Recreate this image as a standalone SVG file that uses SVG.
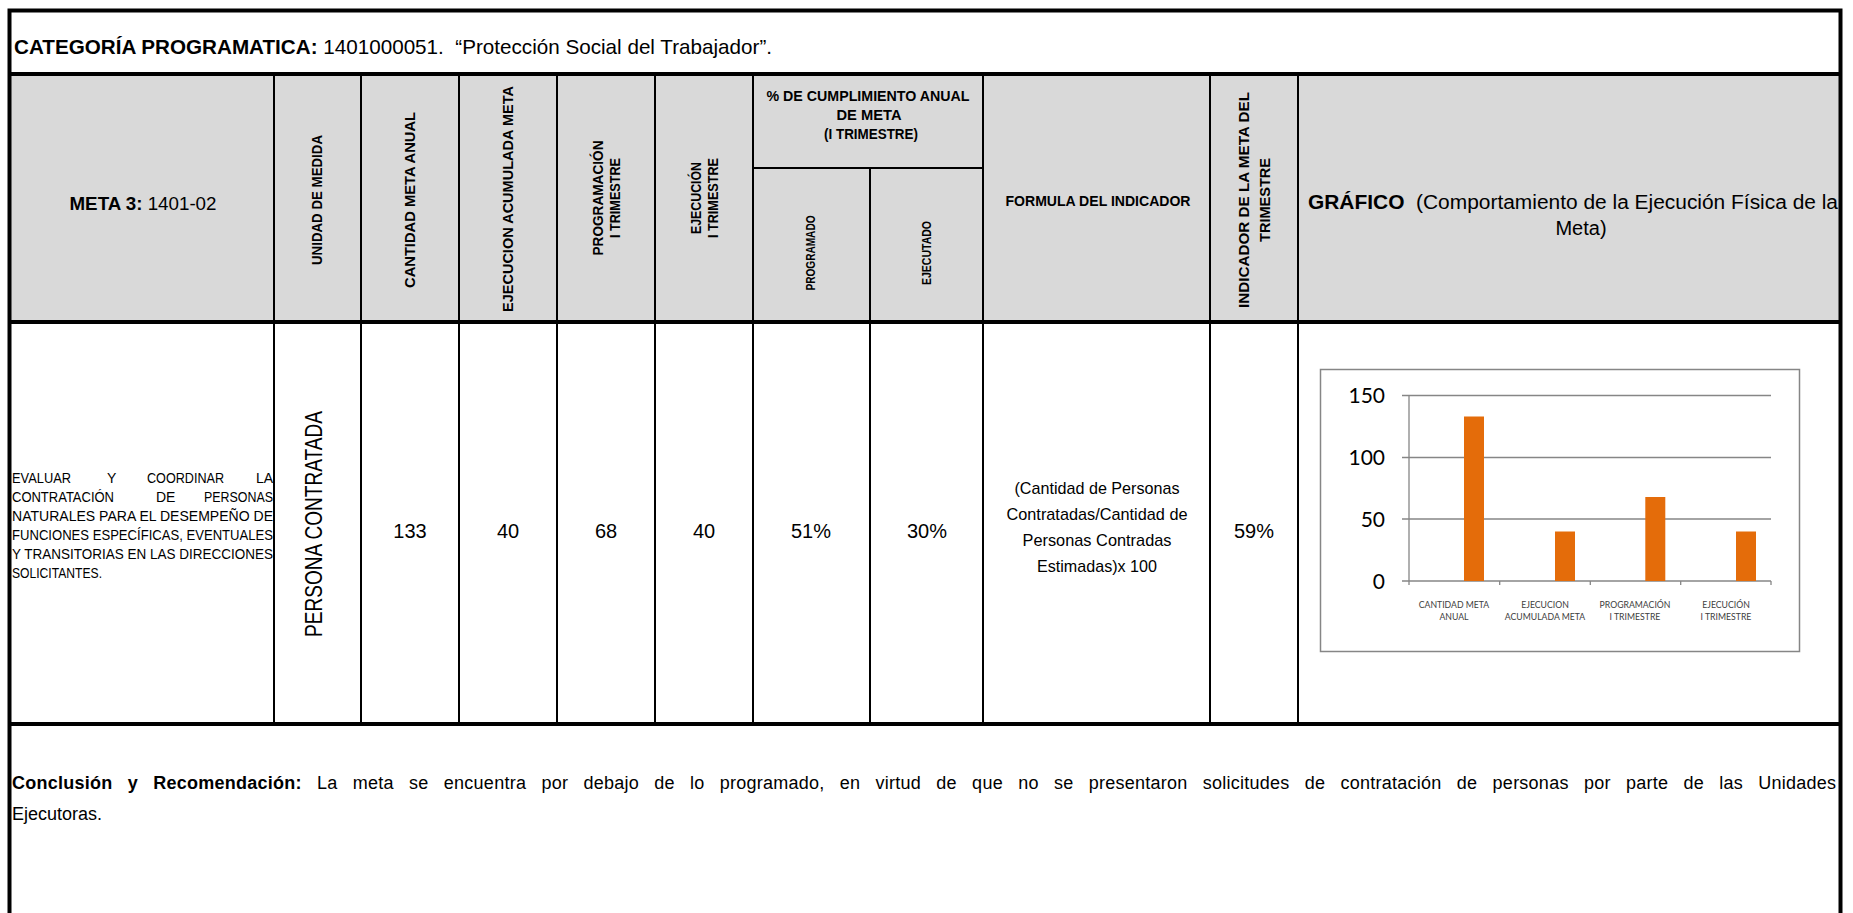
<svg xmlns="http://www.w3.org/2000/svg" width="1853" height="913" viewBox="0 0 1853 913">
<style>
text{font-family:"Liberation Sans",Arial,sans-serif;fill:#000}
.b{font-weight:bold}
.vh{font-weight:bold;font-size:14px;text-anchor:middle}
.num{font-size:20px;text-anchor:middle}
.desc{font-size:14px}
.frm{font-size:17px;text-anchor:middle}
.thin{stroke:#000;stroke-width:2;fill:none}
.thick{stroke:#000;stroke-width:4;fill:none}
.grid{stroke:#868686;stroke-width:1.3;fill:none}
.bar{fill:#E46C0A}
.ylab{font-family:Lato,"Open Sans",sans-serif;font-size:21px;text-anchor:end}
.xlab{font-family:Lato,"Open Sans",sans-serif;font-size:8.7px;text-anchor:middle;fill:#404040}
</style>
<rect x="0" y="0" width="1853" height="913" fill="#fff"/>
<g id="header-bg"><rect x="10" y="74" width="1830" height="248" fill="#D9D9D9"/></g>
<g id="grid-lines">
<rect class="thick" x="9.5" y="10.5" width="1831" height="920"/>
<line class="thick" x1="9.5" y1="74" x2="1840.5" y2="74"/>
<line class="thick" x1="9.5" y1="322" x2="1840.5" y2="322"/>
<line class="thick" x1="9.5" y1="724" x2="1840.5" y2="724"/>
<line class="thin" x1="753" y1="168" x2="983" y2="168"/>
<line class="thin" x1="274" y1="74" x2="274" y2="724"/>
<line class="thin" x1="361" y1="74" x2="361" y2="724"/>
<line class="thin" x1="459" y1="74" x2="459" y2="724"/>
<line class="thin" x1="557" y1="74" x2="557" y2="724"/>
<line class="thin" x1="655" y1="74" x2="655" y2="724"/>
<line class="thin" x1="753" y1="74" x2="753" y2="724"/>
<line class="thin" x1="870" y1="168" x2="870" y2="724"/>
<line class="thin" x1="983" y1="74" x2="983" y2="724"/>
<line class="thin" x1="1210" y1="74" x2="1210" y2="724"/>
<line class="thin" x1="1298" y1="74" x2="1298" y2="724"/>
</g>
<g id="title"><text x="14" y="54" font-size="21" textLength="758" lengthAdjust="spacingAndGlyphs"><tspan class="b">CATEGORÍA PROGRAMATICA:</tspan> 1401000051.&#160; “Protección Social del Trabajador”.</text></g>
<g id="h-meta"><text x="143" y="210" font-size="19" text-anchor="middle" textLength="147" lengthAdjust="spacingAndGlyphs"><tspan class="b">META 3:</tspan> 1401-02</text></g>
<g id="h-unidad"><text class="vh" transform="translate(322,200) rotate(-90)" textLength="130" lengthAdjust="spacingAndGlyphs">UNIDAD DE MEDIDA</text></g>
<g id="h-cantidad"><text class="vh" transform="translate(415,200) rotate(-90)" textLength="176" lengthAdjust="spacingAndGlyphs">CANTIDAD META ANUAL</text></g>
<g id="h-ejec-acum"><text class="vh" transform="translate(513,199) rotate(-90)" textLength="226" lengthAdjust="spacingAndGlyphs">EJECUCION ACUMULADA META</text></g>
<g id="h-prog"><text class="vh" transform="translate(603,198) rotate(-90)" textLength="115" lengthAdjust="spacingAndGlyphs">PROGRAMACIÓN</text><text class="vh" transform="translate(620,198) rotate(-90)" textLength="80" lengthAdjust="spacingAndGlyphs">I TRIMESTRE</text></g>
<g id="h-ejec"><text class="vh" transform="translate(701,198) rotate(-90)" textLength="72" lengthAdjust="spacingAndGlyphs">EJECUCIÓN</text><text class="vh" transform="translate(718,198) rotate(-90)" textLength="80" lengthAdjust="spacingAndGlyphs">I TRIMESTRE</text></g>
<g id="h-cumpl"><text class="b" x="868" y="101" font-size="14" text-anchor="middle" textLength="203" lengthAdjust="spacingAndGlyphs">% DE CUMPLIMIENTO ANUAL</text><text class="b" x="869" y="120" font-size="14" text-anchor="middle" textLength="65" lengthAdjust="spacingAndGlyphs">DE META</text><text class="b" x="871" y="139" font-size="14" text-anchor="middle" textLength="94" lengthAdjust="spacingAndGlyphs">(I TRIMESTRE)</text></g>
<g id="h-programado"><text class="vh" style="font-size:12px" transform="translate(815,253) rotate(-90)" textLength="75" lengthAdjust="spacingAndGlyphs">PROGRAMADO</text></g>
<g id="h-ejecutado"><text class="vh" style="font-size:12px" transform="translate(931,253) rotate(-90)" textLength="64" lengthAdjust="spacingAndGlyphs">EJECUTADO</text></g>
<g id="h-formula"><text class="b" x="1098" y="206" font-size="14" text-anchor="middle" textLength="185" lengthAdjust="spacingAndGlyphs">FORMULA DEL INDICADOR</text></g>
<g id="h-indicador"><text class="vh" transform="translate(1249,200) rotate(-90)" textLength="216" lengthAdjust="spacingAndGlyphs">INDICADOR DE LA META DEL</text><text class="vh" transform="translate(1270,200) rotate(-90)" textLength="84" lengthAdjust="spacingAndGlyphs">TRIMESTRE</text></g>
<g id="h-grafico"><text x="1308" y="209" font-size="20" textLength="530" lengthAdjust="spacingAndGlyphs"><tspan class="b">GRÁFICO</tspan>&#160; (Comportamiento de la Ejecución Física de la</text><text x="1581" y="235" font-size="20" text-anchor="middle">Meta)</text></g>
<g id="d-desc">
<text class="desc" x="12" y="483" textLength="59" lengthAdjust="spacingAndGlyphs">EVALUAR</text><text class="desc" x="107" y="483">Y</text><text class="desc" x="147" y="483" textLength="77" lengthAdjust="spacingAndGlyphs">COORDINAR</text><text class="desc" x="273" y="483" text-anchor="end">LA</text>
<text class="desc" x="12" y="502" textLength="102" lengthAdjust="spacingAndGlyphs">CONTRATACIÓN</text><text class="desc" x="156" y="502">DE</text><text class="desc" x="204" y="502" textLength="69" lengthAdjust="spacingAndGlyphs">PERSONAS</text>
<text class="desc" x="12" y="521" textLength="261" lengthAdjust="spacingAndGlyphs">NATURALES PARA EL DESEMPEÑO DE</text>
<text class="desc" x="12" y="540" textLength="261" lengthAdjust="spacingAndGlyphs">FUNCIONES ESPECÍFICAS, EVENTUALES</text>
<text class="desc" x="12" y="559" textLength="261" lengthAdjust="spacingAndGlyphs">Y TRANSITORIAS EN LAS DIRECCIONES</text>
<text class="desc" x="12" y="578" textLength="90" lengthAdjust="spacingAndGlyphs">SOLICITANTES.</text>
</g>
<g id="d-unidad"><text transform="translate(322,524) rotate(-90)" font-size="24" text-anchor="middle" textLength="226" lengthAdjust="spacingAndGlyphs">PERSONA CONTRATADA</text></g>
<g id="d-values">
<text class="num" x="410" y="538">133</text>
<text class="num" x="508" y="538">40</text>
<text class="num" x="606" y="538">68</text>
<text class="num" x="704" y="538">40</text>
<text class="num" x="811" y="538">51%</text>
<text class="num" x="927" y="538">30%</text>
<text class="num" x="1254" y="538">59%</text>
</g>
<g id="d-formula">
<text class="frm" x="1097" y="494" textLength="165" lengthAdjust="spacingAndGlyphs">(Cantidad de Personas</text>
<text class="frm" x="1097" y="520" textLength="181" lengthAdjust="spacingAndGlyphs">Contratadas/Cantidad de</text>
<text class="frm" x="1097" y="546" textLength="149" lengthAdjust="spacingAndGlyphs">Personas Contradas</text>
<text class="frm" x="1097" y="572" textLength="120" lengthAdjust="spacingAndGlyphs">Estimadas)x 100</text>
</g>
<g id="chart">
<rect x="1320.5" y="369.5" width="479" height="282" fill="#fff" stroke="#868686" stroke-width="1.5"/>
<line class="grid" x1="1402" y1="395.5" x2="1771" y2="395.5"/>
<line class="grid" x1="1402" y1="457.5" x2="1771" y2="457.5"/>
<line class="grid" x1="1402" y1="519" x2="1771" y2="519"/>
<line class="grid" x1="1402" y1="581" x2="1771" y2="581"/>
<line class="grid" x1="1409" y1="395.5" x2="1409" y2="585"/>
<line class="grid" x1="1499.7" y1="581" x2="1499.7" y2="585"/>
<line class="grid" x1="1590.3" y1="581" x2="1590.3" y2="585"/>
<line class="grid" x1="1680.7" y1="581" x2="1680.7" y2="585"/>
<line class="grid" x1="1771" y1="581" x2="1771" y2="585"/>
<rect class="bar" x="1464" y="416.5" width="20" height="164.5"/>
<rect class="bar" x="1555" y="531.5" width="20" height="49.5"/>
<rect class="bar" x="1645.3" y="497" width="20" height="84"/>
<rect class="bar" x="1736" y="531.5" width="20" height="49.5"/>
<text class="ylab" x="1385" y="403">150</text>
<text class="ylab" x="1385" y="465">100</text>
<text class="ylab" x="1385" y="526.5">50</text>
<text class="ylab" x="1385" y="588.5">0</text>
<text class="xlab" x="1454" y="608">CANTIDAD META</text><text class="xlab" x="1454" y="620">ANUAL</text>
<text class="xlab" x="1545" y="608">EJECUCION</text><text class="xlab" x="1545" y="620">ACUMULADA META</text>
<text class="xlab" x="1635" y="608">PROGRAMACIÓN</text><text class="xlab" x="1635" y="620">I TRIMESTRE</text>
<text class="xlab" x="1726" y="608">EJECUCIÓN</text><text class="xlab" x="1726" y="620">I TRIMESTRE</text>
</g>
<g id="conclusion">
<text x="12" y="789" font-size="18" textLength="1824" lengthAdjust="spacing" word-spacing="10"><tspan class="b">Conclusión y Recomendación:</tspan> La meta se encuentra por debajo de lo programado, en virtud de que no se presentaron solicitudes de contratación de personas por parte de las Unidades</text>
<text x="12" y="820" font-size="18">Ejecutoras.</text>
</g>
</svg>
